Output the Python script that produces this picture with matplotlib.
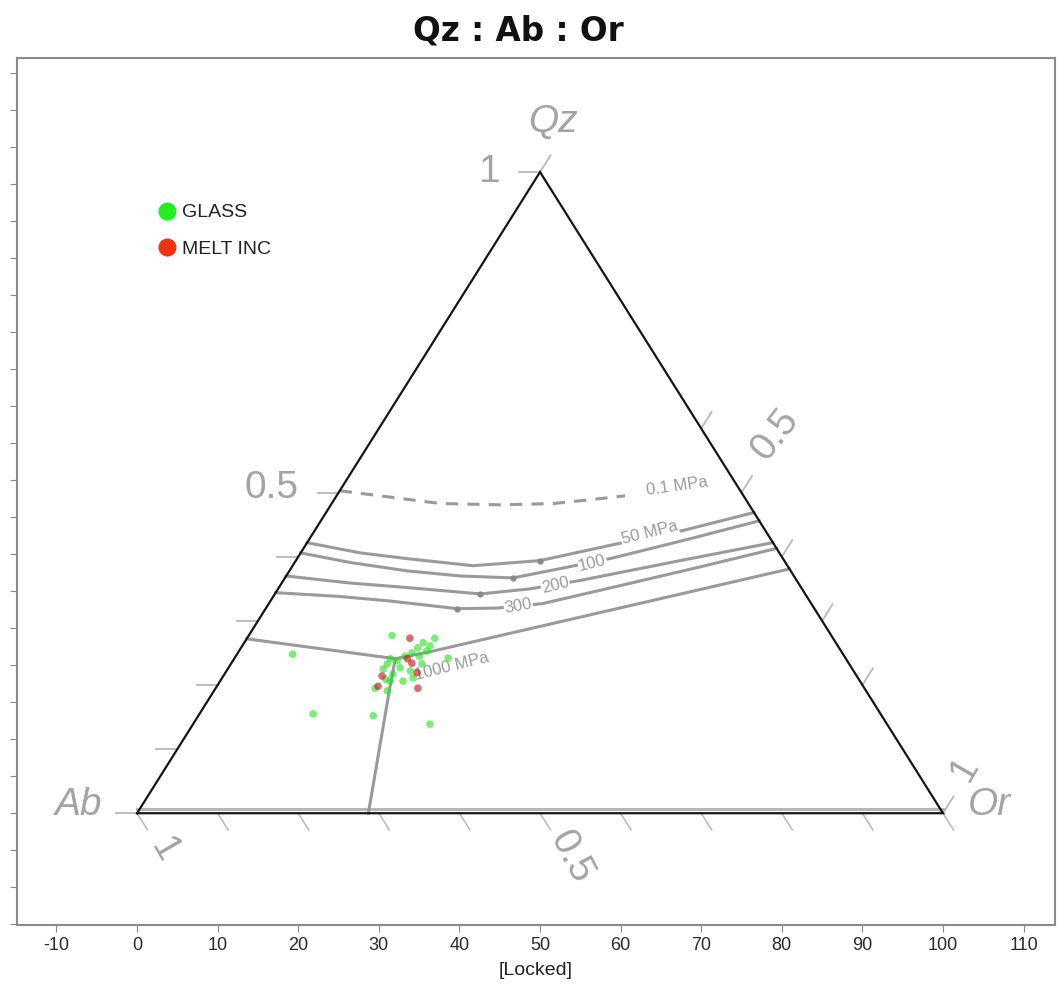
import numpy as np
import matplotlib
matplotlib.use('Agg')
import matplotlib.pyplot as plt
from matplotlib.lines import Line2D

plt.rcParams['axes.unicode_minus'] = False
H = np.sqrt(3) / 2


def tern(qz, orr):
    # Qz, Or in wt% -> cartesian (Ab at 0, Or at 100, Qz on top)
    qz = np.asarray(qz, float)
    orr = np.asarray(orr, float)
    return orr + qz / 2, qz * H


# cotectic lines (Qz, Or wt%)
p01_qz = [50.3, 49.1, 48.3, 48.1, 48.3, 48.9, 49.5]
p01_or = [0.0, 8.1, 13.5, 21.0, 27.5, 31.8, 35.8]

p50_qz = [42.2, 40.6, 39.7, 38.6, 39.4, 42.0, 44.1, 46.9]
p50_or = [0.0, 7.4, 13.7, 22.4, 30.3, 38.5, 45.7, 53.1]

p100_qz = [40.6, 39.1, 37.8, 37.0, 36.7, 38.0, 39.8, 42.8, 45.6]
p100_or = [0.0, 6.9, 14.6, 21.6, 28.3, 32.9, 39.1, 47.2, 54.4]

p200_qz = [37.0, 35.9, 35.2, 34.2, 35.0, 36.3, 39.4, 42.2]
p200_or = [0.0, 8.5, 15.9, 25.5, 31.3, 36.8, 47.7, 57.8]

p300_qz = [34.4, 33.8, 33.1, 31.9, 32.0, 32.7, 35.5, 38.4, 41.3]
p300_or = [0.0, 8.3, 14.8, 23.8, 28.7, 34.0, 42.2, 50.6, 58.7]

# 1000 MPa: eutectic junction with three boundaries
p1000_left_qz = [27.2, 24.1]
p1000_left_or = [0.0, 20.0]
p1000_right_qz = [24.1, 25.2, 38.1]
p1000_right_or = [20.0, 23.8, 61.9]
p1000_down_qz = [24.1, 19.5, 0.0]
p1000_down_or = [20.0, 21.6, 28.7]

# minimum markers on isobars
min_qz = [39.4, 36.7, 34.2, 31.9]
min_or = [30.3, 28.3, 25.5, 23.8]

# samples
glass_qz = [27.7, 24.8, 15.5, 15.2, 13.9, 24.2, 27.3, 19.1, 26.6, 25.8, 25.3, 26.1, 25.0, 24.1,
            23.8, 23.3, 22.7, 21.7, 22.2, 21.1, 20.6, 20.6, 23.3, 22.5, 20.9, 19.5, 24.5, 24.5]
glass_or = [17.8, 6.9, 14.1, 21.7, 29.4, 26.5, 23.3, 21.5, 22.2, 21.9, 23.3, 23.3, 21.6, 19.4,
            20.4, 19.4, 21.3, 20.9, 22.8, 23.7, 21.1, 22.7, 23.7, 19.3, 20.4, 19.8, 22.8, 21.0]
melt_qz = [27.3, 24.1, 21.4, 19.5, 21.9, 19.8, 23.4]
melt_or = [20.2, 21.5, 19.7, 25.1, 23.8, 20.0, 22.4]

# overlay axis ticks that show in the picture (fractions)
left_ticks = [0.0, 0.1, 0.2, 0.3, 0.4, 0.5, 1.0]
right_ticks = [0.0, 0.4, 0.5, 0.6, 0.7, 0.8, 1.0]
base_ticks = [0.0, 0.1, 0.2, 0.3, 0.4, 0.5, 0.6, 0.7, 0.8, 0.9, 1.0]

GREY = '#a3a3a3'
TICK = '#b8b8b8'
LINE = '#9a9a9a'
FONT = ['Liberation Sans', 'DejaVu Sans']
NARROW = ['Liberation Sans Narrow', 'Liberation Sans', 'DejaVu Sans']

fig = plt.figure(figsize=(10.6, 10.06), dpi=100)
ax = fig.add_axes([0.0158, 0.0805, 0.9795, 0.8618])
ax.set_xlim(-14.93, 113.9)
ax.set_ylim(-15.1, 102.0)
ax.set_xticks(np.arange(-10, 111, 10))
ax.set_yticks(np.arange(-15, 101, 5))
ax.set_yticklabels([])
for lab in ax.get_xticklabels():
    lab.set_family(NARROW)
ax.tick_params(axis='x', labelsize=13, colors='#2a2a2a', length=5, color='#888888')
ax.tick_params(axis='y', length=5, color='#888888')
for s in ax.spines.values():
    s.set_color('#8a8a8a')
    s.set_linewidth(1.5)
ax.set_xlabel('[Locked]', fontsize=14, family=NARROW, color='#222222', labelpad=6)

# overlay ticks of the ternary axes
tl = 2.6
for f in left_ticks:
    x0, y0 = tern(f * 100, 0)
    ax.plot([x0 - tl, x0], [y0, y0], color=TICK, lw=1.3, zorder=2)
for f in right_ticks:
    x0, y0 = tern((1 - f) * 100, f * 100)
    ax.plot([x0, x0 + tl * 0.5], [y0, y0 + tl * H], color=TICK, lw=1.3, zorder=2)
for f in base_ticks:
    x0, y0 = tern(0, (1 - f) * 100)
    ax.plot([x0, x0 + tl * 0.5], [y0, y0 - tl * H], color=TICK, lw=1.1, zorder=2)

ax.plot([0, 100], [0.6, 0.6], color='#b5b5b5', lw=2.2, zorder=2)
ax.plot([0, 100, 50, 0], [0, 0, 100 * H, 0], color='#151515', lw=1.6, zorder=3,
        solid_joinstyle='miter')

lab_kw = dict(color=GREY, ha='center', va='center', family=FONT)
ax.text(51.6, 93.3, 'Qz', fontsize=28, style='italic', **lab_kw)
ax.text(-7.3, 1.1, 'Ab', fontsize=28, style='italic', **lab_kw)
ax.text(105.8, 1.1, 'Or', fontsize=28, style='italic', **lab_kw)
ax.text(43.8, 86.6, '1', fontsize=28, **lab_kw)
ax.text(16.7, 43.9, '0.5', fontsize=28, **lab_kw)
ax.text(79.2, 51.1, '0.5', fontsize=28, rotation=52, **lab_kw)
ax.text(102.7, 6.0, '1', fontsize=28, rotation=60, **lab_kw)
ax.text(3.3, -5.0, '1', fontsize=28, rotation=-60, **lab_kw)
ax.text(53.8, -5.9, '0.5', fontsize=28, rotation=-62, **lab_kw)

# isobars
ax.plot(*tern(p01_qz, p01_or), color=LINE, lw=2.2, ls=(0, (4, 3)), zorder=2)
for q, o in [(p50_qz, p50_or), (p100_qz, p100_or), (p200_qz, p200_or), (p300_qz, p300_or),
             (p1000_left_qz, p1000_left_or), (p1000_right_qz, p1000_right_or),
             (p1000_down_qz, p1000_down_or)]:
    ax.plot(*tern(q, o), color=LINE, lw=2.2, zorder=2)
ax.plot(*tern(min_qz, min_or), 'o', color='#8a8a8a', ms=3.5, zorder=2)

iso_kw = dict(color='#9a9a9a', ha='center', va='center', family=FONT, fontsize=12, zorder=2.5,
              bbox=dict(facecolor='white', edgecolor='none', pad=0.5))
ax.text(67.0, 44.2, '0.1 MPa', rotation=8, **iso_kw)
ax.text(63.6, 37.9, '50 MPa', rotation=14, **iso_kw)
ax.text(56.5, 33.8, '100', rotation=14, **iso_kw)
ax.text(51.9, 30.8, '200', rotation=14, **iso_kw)
ax.text(47.3, 28.0, '300', rotation=10, **iso_kw)
ax.text(39.0, 19.8, '1000 MPa', rotation=14, **iso_kw)

# samples
ax.scatter(*tern(glass_qz, glass_or), s=30, color='#22e022', alpha=0.6, edgecolors='none', zorder=4)
ax.scatter(*tern(melt_qz, melt_or), s=30, color='#c81e1e', alpha=0.65, edgecolors='none', zorder=5)

handles = [Line2D([], [], ls='none', marker='o', ms=12, color='#22ee22'),
           Line2D([], [], ls='none', marker='o', ms=12, color='#ee3311')]
leg = ax.legend(handles, ['GLASS', 'MELT INC'], loc='upper left', bbox_to_anchor=(0.12, 0.852),
                frameon=False, handlelength=0.8, handletextpad=0.4, labelspacing=0.95,
                prop=dict(family=NARROW, size=14))
for t in leg.get_texts():
    t.set_color('#222222')

fig.text(518 / 1060, 1 - 31 / 1006, 'Qz : Ab : Or', ha='center', va='center', fontsize=23.5,
         fontweight='bold', family=['DejaVu Sans'], color='#111111')

fig.savefig('out.png', dpi=100, facecolor='white')
